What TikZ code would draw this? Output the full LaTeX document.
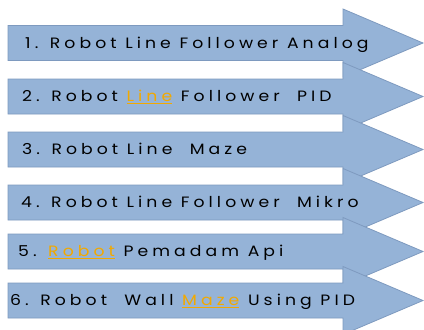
\documentclass[tikz,border=0pt]{standalone}
\usepackage{fontspec}
\setmainfont[LetterSpace=27,FakeStretch=1.15]{Poppins}
\definecolor{afill}{HTML}{95B3D7}
\definecolor{aline}{HTML}{7E9ABF}
\definecolor{lnk}{HTML}{F2A900}
\tikzset{
  arrowbody/.style={fill=afill, draw=aline, line width=0.8pt, line join=miter},
  lbl/.style={anchor=base west, inner sep=0pt, font=\fontsize{15}{17}\selectfont, text=black},
  roboarrow/.pic={\path[arrowbody] (8,-17.5) -- (343,-17.5) -- (343,-34) -- (423,0) -- (343,34) -- (343,17.5) -- (8,17.5) -- cycle;}
}
\newcommand\lk[1]{\textcolor{lnk}{\setbox0\hbox{#1}\rlap{\vrule height -1.3pt depth 2.8pt width \wd0}\box0}}
\begin{document}
\begin{tikzpicture}[x=1pt,y=-1pt]
\clip (0,0) rectangle (424,330);
\fill[white] (0,0) rectangle (424,330);
\pic at (0,43) {roboarrow};
\pic at (0,96.5) {roboarrow};
\pic at (0,149.5) {roboarrow};
\pic at (0,202.5) {roboarrow};
\pic at (0,251.5) {roboarrow};
\pic at (0,300.5) {roboarrow};
\node[lbl] (t1) at (25,48) {1. Robot Line Follower Analog};
\node[lbl] (t2) at (22,101.5) {2. Robot \lk{Line} Follower\ \ PID};
\node[lbl] (t3) at (22,154.5) {3. Robot Line\ \ Maze};
\node[lbl] (t4) at (21,207.5) {4. Robot Line Follower\ \ Mikro};
\node[lbl] (t5) at (18,256.5) {5. \lk{Robot} Pemadam Api};
\node[lbl] (t6) at (10,305.5) {6. Robot\ \ Wall \lk{Maze} Using PID};
\end{tikzpicture}
\end{document}
